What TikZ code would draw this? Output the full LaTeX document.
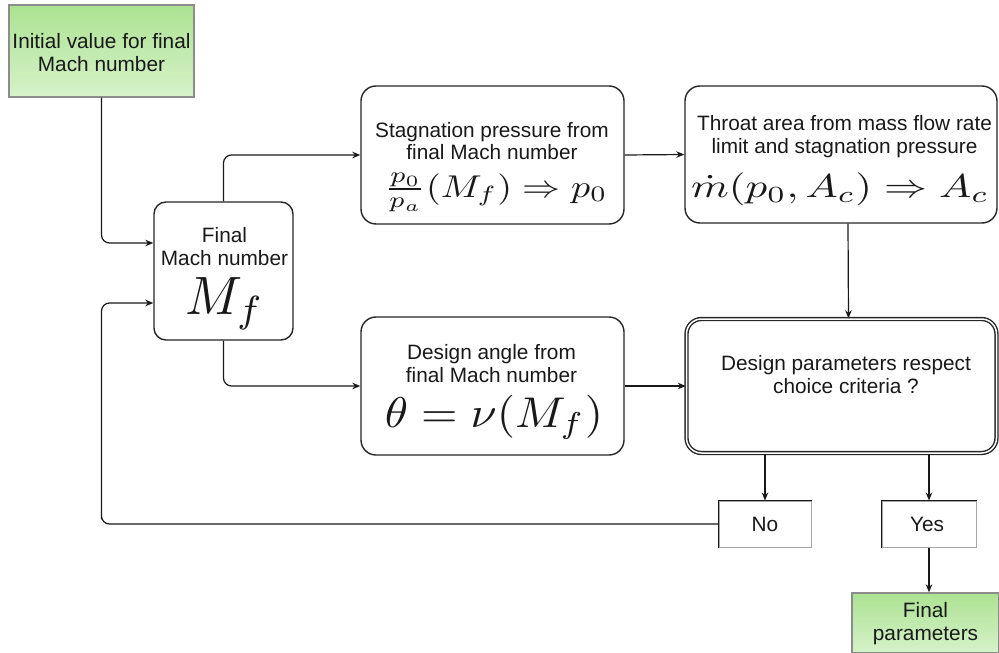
\documentclass[tikz,border=0pt]{standalone}
\usepackage{graphicx}
\usepackage[no-math]{fontspec}
\setmainfont{Liberation Sans}
\usetikzlibrary{arrows.meta,calc}
\definecolor{gtop}{RGB}{172,226,146}
\definecolor{gbot}{RGB}{214,242,202}
\newcommand{\bigmath}[3]{{\fontsize{10}{12}\selectfont\scalebox{#1}[#2]{$#3$}}}
\begin{document}
\begin{tikzpicture}[x=1pt,y=-1pt,
  every node/.style={text=black!90, inner sep=0pt, align=center},
  ln/.style={anchor=base, font=\fontsize{20.8}{23}\selectfont},
  mth/.style={anchor=base},
  rbox/.style={draw=black!85, line width=1.4pt, rounded corners=15pt, fill=white},
  gbox/.style={draw=black!45, line width=1.4pt, top color=gtop, bottom color=gbot},
  sbox/.style={draw=black!35, line width=1pt, fill=white},
  edgeline/.style={draw=black!90, line width=1.6pt},
  link/.style={draw=black!90, line width=1.2pt, -{Stealth[length=8pt,width=6.5pt]}},
]
\useasboundingbox (0,0) rectangle (999,653);

% boxes
\node[gbox, minimum width=185pt, minimum height=92pt] (init) at (101.5,51) {};
\node[rbox, rounded corners=12pt, minimum width=139pt, minimum height=138pt] (mach) at (223.5,271) {};
\node[rbox, minimum width=263pt, minimum height=138pt] (stag) at (492.5,155) {};
\node[rbox, minimum width=312pt, minimum height=137pt] (throat) at (841,154.5) {};
\node[rbox, minimum width=263pt, minimum height=138pt] (angle) at (492.5,386) {};
\node[rbox, double, double distance=1.5pt, minimum width=310pt, minimum height=134pt] (crit) at (841.5,386) {};
\node[sbox, minimum width=92pt, minimum height=46pt] (no) at (765,524) {};
\node[sbox, minimum width=94pt, minimum height=46pt] (yes) at (929,524) {};
\draw[edgeline] (no.south west) |- (no.north east);
\draw[edgeline] (yes.south west) |- (yes.north east);
\node[gbox, minimum width=147pt, minimum height=60pt] (fin) at (925.5,623) {};

% texts
\node[ln] (init1) at (101.5,48) {Initial value for final};
\node[ln] (init2) at (101.5,71) {Mach number};

\node[ln] (mach1) at (224.5,242) {Final};
\node[ln] (mach2) at (224.5,265) {Mach number};
\node[mth] (machm) at (225,314) {\bigmath{5.3}{5.4}{M_f}};

\node[ln] (stag1) at (492,137) {Stagnation pressure from};
\node[ln] (stag2) at (492,159.5) {final Mach number};
\node[mth] (stagm) at (496,197) {\bigmath{3.8}{3.15}{\frac{p_0}{p_a}(M_f)\Rightarrow p_0}};

\node[ln] (thr1) at (844.5,130) {Throat area from mass flow rate};
\node[ln] (thr2) at (844.5,153) {limit and stagnation pressure};
\node[mth] (thrm) at (840,197.5) {\bigmath{4.3}{3.3}{\dot m(p_0,A_c)\Rightarrow A_c}};

\node[ln] (ang1) at (491.5,359) {Design angle from};
\node[ln] (ang2) at (491.5,382) {final Mach number};
\node[mth] (angm) at (494,427) {\bigmath{4.69}{4.3}{\theta=\nu(M_f)}};

\node[ln] (crit1) at (846,370) {Design parameters respect};
\node[ln] (crit2) at (846,393) {choice criteria ?};

\node[ln] (notxt) at (765,531) {No};
\node[ln] (yestxt) at (927,531) {Yes};

\node[ln] (fin1) at (925.5,617) {Final};
\node[ln] (fin2) at (925.5,640) {parameters};

% connectors
\coordinate (back) at ([yshift=-32pt]mach.west);
\draw[link, rounded corners=8pt] (init.south) |- ([yshift=28pt]mach.west);
\draw[link, rounded corners=8pt] (no.west) -| (init.south |- no.west) |- (back);
\draw[link, rounded corners=8pt] (mach.north) |- (stag.west);
\draw[link, rounded corners=8pt] (mach.south) |- (angle.west);
\draw[link] (stag.east) -- (throat.west);
\draw[link] ([xshift=7pt]throat.south) -- ([xshift=7pt]crit.north);
\draw[link] (angle.east) -- (crit.west);
\draw[link] (crit.south -| no.north) -- (no.north);
\draw[link] (crit.south -| yes.north) -- (yes.north);
\draw[link] (yes.south) -- (yes.south |- fin.north);
\end{tikzpicture}
\end{document}
